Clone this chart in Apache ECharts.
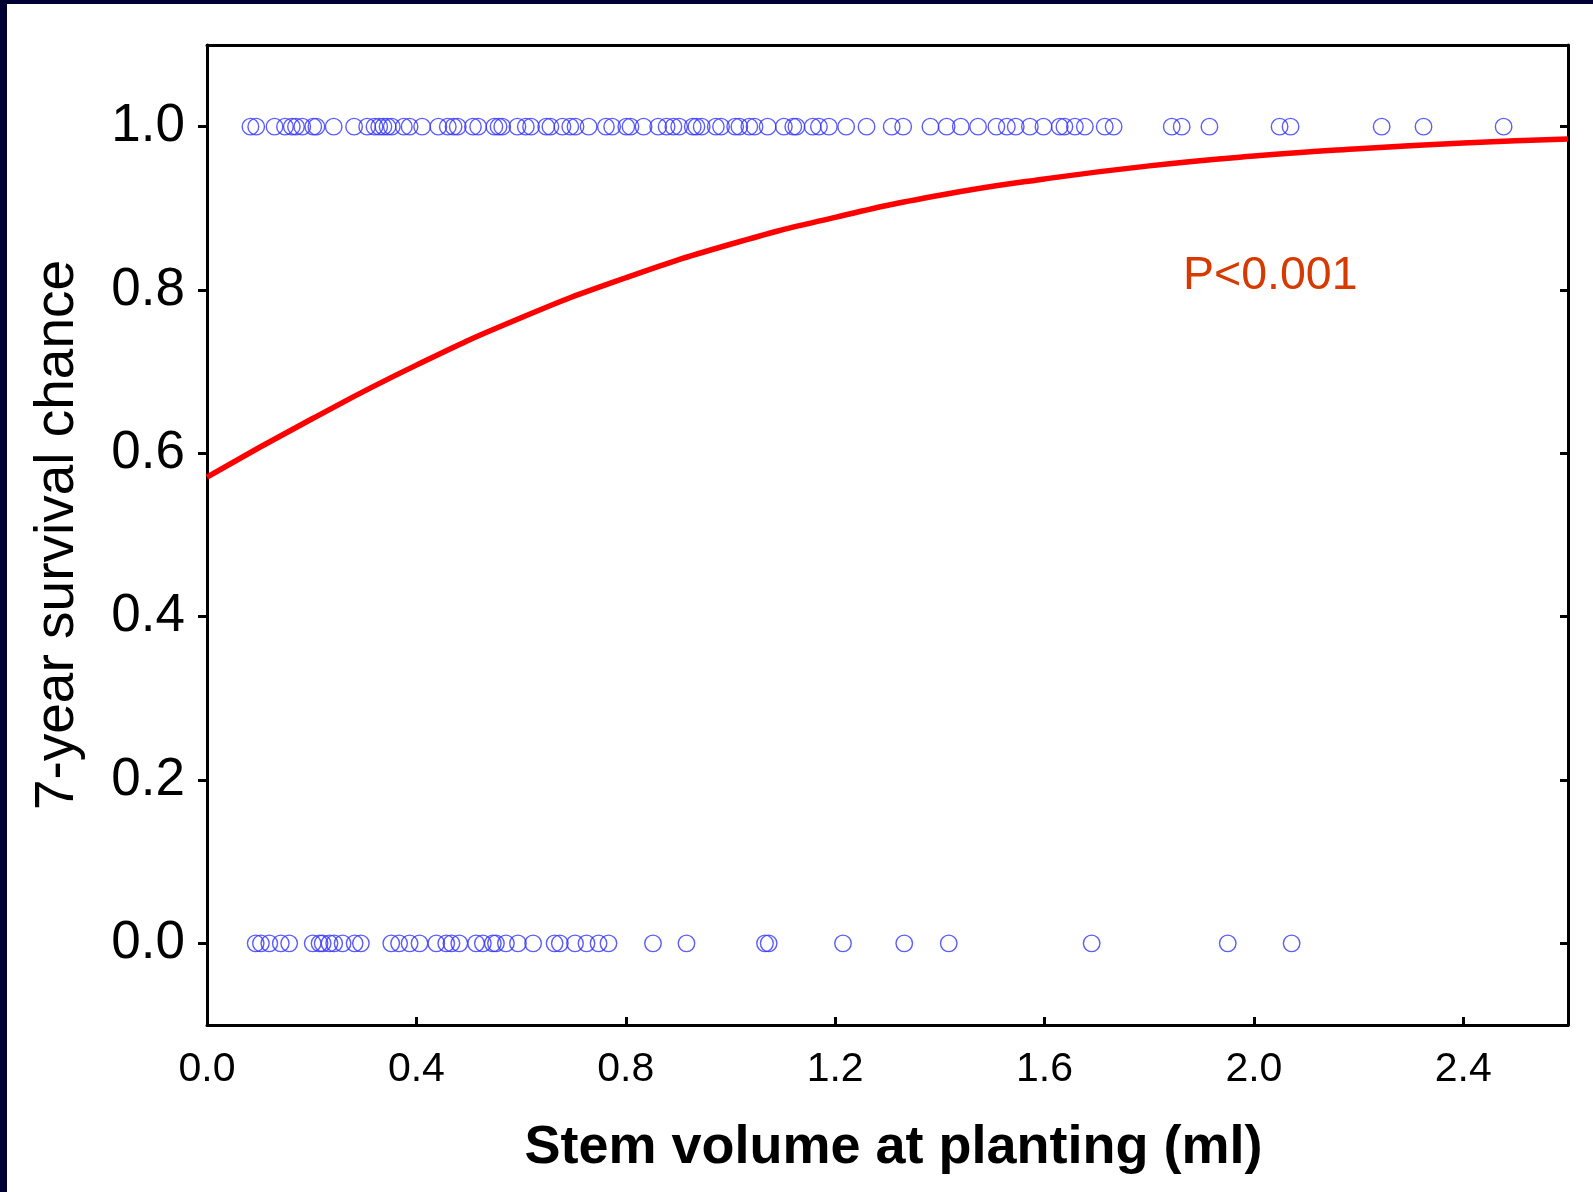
<!DOCTYPE html>
<html>
<head>
<meta charset="utf-8">
<script src="https://cdn.jsdelivr.net/npm/echarts@6/dist/echarts.min.js"></script>
<style>
html,body{margin:0;padding:0;background:#fff;}
#chart{width:1593px;height:1192px;}
</style>
</head>
<body>
<div id="chart"></div>
<script>
// Stem volume (ml) of trees that survived (y = 1)
const survivedX = [0.083, 0.094, 0.129, 0.149, 0.162, 0.170, 0.182, 0.203, 0.209, 0.242,
  0.281, 0.306, 0.320, 0.329, 0.337, 0.345, 0.353, 0.376, 0.387, 0.411,
  0.442, 0.460, 0.471, 0.479, 0.508, 0.518, 0.549, 0.557, 0.564, 0.593,
  0.609, 0.619, 0.648, 0.656, 0.679, 0.694, 0.704, 0.729, 0.762, 0.774,
  0.801, 0.809, 0.834, 0.862, 0.878, 0.891, 0.902, 0.928, 0.935, 0.945,
  0.972, 0.982, 1.009, 1.017, 1.036, 1.046, 1.071, 1.102, 1.120, 1.126,
  1.157, 1.169, 1.188, 1.221, 1.260, 1.308, 1.330, 1.382, 1.413, 1.440,
  1.473, 1.508, 1.528, 1.545, 1.572, 1.598, 1.629, 1.638, 1.658, 1.677,
  1.715, 1.732, 1.843, 1.862, 1.915, 2.049, 2.070, 2.244, 2.324, 2.477];
// Stem volume (ml) of trees that died (y = 0)
const diedX = [0.093, 0.103, 0.119, 0.141, 0.157, 0.202, 0.215, 0.221, 0.234, 0.243,
  0.259, 0.282, 0.294, 0.352, 0.367, 0.387, 0.406, 0.438, 0.457, 0.467,
  0.482, 0.514, 0.527, 0.546, 0.552, 0.571, 0.594, 0.623, 0.664, 0.674,
  0.703, 0.725, 0.748, 0.767, 0.852, 0.916, 1.066, 1.073, 1.215, 1.332,
  1.417, 1.690, 1.950, 2.072];
// Fitted survival curve
const curveX = [0, 0.2, 0.4, 0.6, 0.8, 1.0, 1.2, 1.4, 1.6, 1.8, 2.0, 2.2, 2.4, 2.6];
const curveY = [0.571, 0.642, 0.708, 0.766, 0.815, 0.856, 0.889, 0.916, 0.936, 0.952, 0.964, 0.973, 0.980, 0.985];
// Tick values
const xTicks = [0, 0.4, 0.8, 1.2, 1.6, 2.0, 2.4];
const yTicks = [0, 0.2, 0.4, 0.6, 0.8, 1.0];
const pText = 'P<0.001';

const chart = echarts.init(document.getElementById('chart'), null, {renderer: 'canvas'});
const font = '"Liberation Sans", Arial, Helvetica, sans-serif';
const axisLineStyle = {color: '#000', width: 3};

const scatterData = survivedX.map(v => [v, 1]).concat(diedX.map(v => [v, 0]));
const curveData = curveX.map((v, i) => [v, curveY[i]]);

chart.setOption({
  animation: false,
  backgroundColor: '#fff',
  textStyle: {fontFamily: font},
  grid: {left: 207, right: 25, top: 45, bottom: 167, containLabel: false},
  xAxis: [{
    type: 'value', min: 0, max: 2.6, position: 'bottom',
    name: 'Stem volume at planting (ml)', nameLocation: 'middle', nameGap: 96,
    nameTextStyle: {fontFamily: font, fontSize: 54, fontWeight: 'bold', color: '#000', padding: [0, 0, 0, 12]},
    axisLine: {show: true, onZero: false, lineStyle: axisLineStyle},
    axisTick: {show: true, inside: true, length: 8, lineStyle: {color: '#000', width: 3}, customValues: xTicks},
    axisLabel: {show: true, customValues: xTicks, margin: 24, fontSize: 41, color: '#000', fontFamily: font,
      formatter: v => v.toFixed(1)},
    splitLine: {show: false}
  }, {
    type: 'value', min: 0, max: 2.6, position: 'top',
    axisLine: {show: true, onZero: false, lineStyle: axisLineStyle},
    axisTick: {show: false}, axisLabel: {show: false}, splitLine: {show: false}
  }],
  yAxis: [{
    type: 'value', min: -0.1, max: 1.1, position: 'left',
    name: '7-year survival chance', nameLocation: 'middle', nameGap: 122,
    nameTextStyle: {fontFamily: font, fontSize: 55, color: '#000'},
    axisLine: {show: true, onZero: false, lineStyle: axisLineStyle},
    axisTick: {show: true, inside: false, length: 9, lineStyle: {color: '#000', width: 3}, customValues: yTicks},
    axisLabel: {show: true, customValues: yTicks, margin: 22, fontSize: 53, color: '#000', fontFamily: font,
      formatter: v => v.toFixed(1)},
    splitLine: {show: false}
  }, {
    type: 'value', min: -0.1, max: 1.1, position: 'right',
    axisLine: {show: true, onZero: false, lineStyle: axisLineStyle},
    axisTick: {show: true, inside: true, length: 8, lineStyle: {color: '#000', width: 3}, customValues: yTicks},
    axisLabel: {show: false}, splitLine: {show: false}
  }],
  series: [{
    type: 'line', data: curveData, smooth: true, showSymbol: false, symbol: 'none',
    lineStyle: {color: '#ff0000', width: 5.5}, clip: false, z: 2
  }, {
    type: 'scatter', data: scatterData, symbol: 'circle', symbolSize: 16.5,
    itemStyle: {color: 'rgba(0,0,0,0)', borderColor: '#3333ff', borderWidth: 1.4}, z: 3
  }],
  graphic: [
    {type: 'text', left: 1183, top: 253, style: {text: pText, fontFamily: font, fontSize: 46.5, fill: '#d63a00'}},
    {type: 'rect', left: 0, top: 0, shape: {width: 1593, height: 4}, style: {fill: '#000033'}, z: 100},
    {type: 'rect', left: 0, top: 0, shape: {width: 7, height: 1192}, style: {fill: '#000033'}, z: 100}
  ]
});
</script>
</body>
</html>
